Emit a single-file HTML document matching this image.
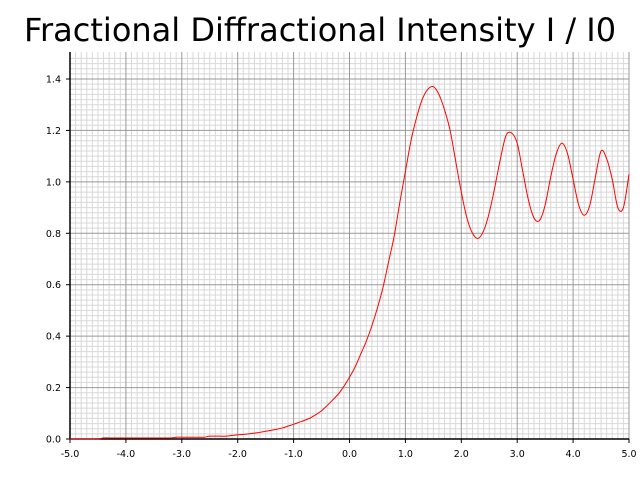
<!DOCTYPE html>
<html><head><meta charset="utf-8"><style>
html,body{margin:0;padding:0;background:#fff;}
svg{display:block;font-family:"DejaVu Sans","Liberation Sans",sans-serif;}
</style></head><body>
<svg id="chart" width="640" height="480" viewBox="0 0 640 480">
<rect width="640" height="480" fill="#fff"/>
<text x="320" y="41" text-anchor="middle" font-size="32" fill="#000">Fractional Diffractional Intensity I / I0</text>
<g id="grid"></g><g id="axes"></g><g id="series"></g>
</svg>
<script>
const xTicks=[-5,-4,-3,-2,-1,0,1,2,3,4,5];
const xTickLabels=["-5.0","-4.0","-3.0","-2.0","-1.0","0.0","1.0","2.0","3.0","4.0","5.0"];
const yTicks=[0,0.2,0.4,0.6,0.8,1.0,1.2,1.4];
const yTickLabels=["0.0","0.2","0.4","0.6","0.8","1.0","1.2","1.4"];
const xStart=-5, xStep=0.1;
const intensity=[0,0,0,0,0,0,
0.004,0.004,0.004,0.004,0.004,0.004,0.004,0.004,0.004,0.004,0.004,0.004,0.004,
0.007,0.007,0.007,0.007,0.007,0.007,
0.011,0.011,0.011,0.011,
0.014,0.016,0.018,0.02,0.023,0.026,0.03,0.034,0.038,0.043,0.05,0.057,0.065,0.073,0.082,0.095,0.11,0.13,0.152,0.175,0.205,
0.24,0.28,0.33,0.38,0.44,0.51,0.59,0.69,0.79,0.92,1.04,1.16,1.25,1.32,1.36,1.37,1.34,1.28,1.2,1.08,0.96,0.86,0.8,0.78,0.81,0.88,0.98,1.09,1.18,1.19,1.15,1.04,0.93,0.86,0.85,0.91,1.02,1.11,1.15,1.11,1.01,0.91,0.87,0.91,1.02,1.12,1.09,1.01,0.9,0.9,1.03];
const NS="http://www.w3.org/2000/svg";
const L=70,R=629,B=439,T=52;
const xS=v=>L+(v+5)/10*(R-L);
const yS=v=>B-v/1.4*(B-79);
function mk(tag,attrs,parent){const e=document.createElementNS(NS,tag);for(const k in attrs)e.setAttribute(k,attrs[k]);parent.appendChild(e);return e;}
const grid=document.getElementById('grid'),axes=document.getElementById('axes'),series=document.getElementById('series');
for(let i=1;i<100;i++){const v=-5+i*0.1;if(i%10===0)continue;const x=xS(v);
const g=mk('line',{x1:x,x2:x,y1:T,y2:B,stroke:'#d8d8d8','stroke-width':1},grid);

}
for(let i=1;i<75;i++){const v=i*0.02;if(i%10===0)continue;const y=yS(v);
const g=mk('line',{x1:L,x2:R,y1:y,y2:y,stroke:'#d8d8d8','stroke-width':1},grid);

}
xTicks.forEach((v,i)=>{const x=xS(v);
if(i>0){const g=mk('line',{x1:x,x2:x,y1:T,y2:B,stroke:'#999','stroke-width':1},grid);

}
const t=mk('line',{x1:x,x2:x,y1:B,y2:B+4,stroke:'#000'},axes);


const lb=mk('text',{x:x,y:B+18,'text-anchor':'middle','font-size':9.5,fill:'#000'},axes);lb.textContent=xTickLabels[i];

});
yTicks.forEach((v,i)=>{const y=yS(v);
if(i>0){const g=mk('line',{x1:L,x2:R,y1:y,y2:y,stroke:'#999','stroke-width':1},grid);

}
const t=mk('line',{x1:L-4,x2:L,y1:y,y2:y,stroke:'#000'},axes);


const lb=mk('text',{x:L-9,y:y+3.5,'text-anchor':'end','font-size':9.5,fill:'#000'},axes);lb.textContent=yTickLabels[i];

});
const ya=mk('line',{x1:L,x2:L,y1:T,y2:B,stroke:'#000','stroke-width':1.5},axes);


const xa=mk('line',{x1:L,x2:R,y1:B,y2:B,stroke:'#000','stroke-width':1.5},axes);


const P=intensity.map((v,i)=>[xS(xStart+i*xStep),yS(v)]);
let d='M'+P[0][0].toFixed(2)+','+P[0][1].toFixed(2);
for(let i=0;i<P.length-1;i++){
  const p0=P[Math.max(i-1,0)],p1=P[i],p2=P[i+1],p3=P[Math.min(i+2,P.length-1)];
  const c1=[p1[0]+(p2[0]-p0[0])/6,p1[1]+(p2[1]-p0[1])/6];
  const c2=[p2[0]-(p3[0]-p1[0])/6,p2[1]-(p3[1]-p1[1])/6];
  d+=' C'+c1[0].toFixed(2)+','+c1[1].toFixed(2)+' '+c2[0].toFixed(2)+','+c2[1].toFixed(2)+' '+p2[0].toFixed(2)+','+p2[1].toFixed(2);
}
const line=mk('path',{d:d,fill:'none',stroke:'#f00','stroke-width':1},series);


</script>
</body></html>
